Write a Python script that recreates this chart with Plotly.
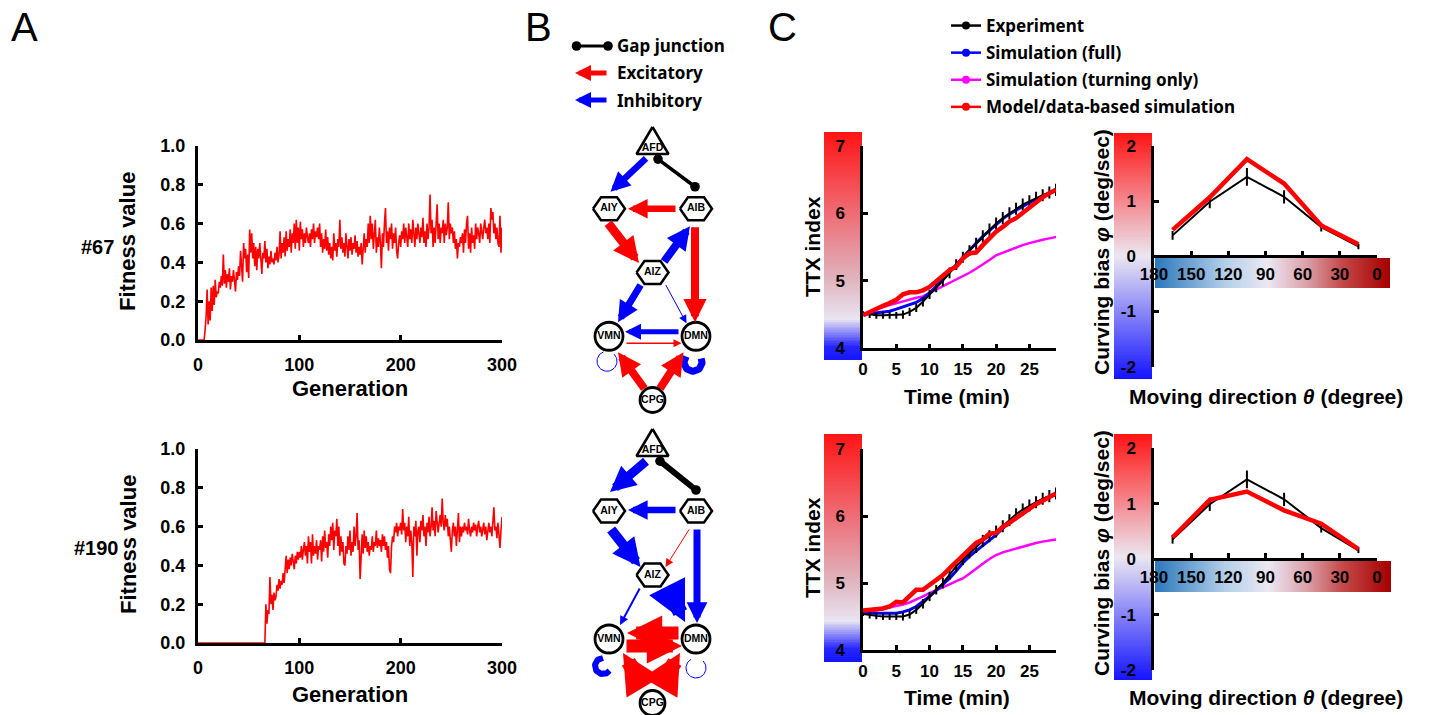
import numpy as np
import plotly.graph_objects as go

W, H = 1429, 715

# ---------------------------------------------------------------- data
generation = list(range(301))
fitness_67 = [
    0, 0, 0, 0, 0, 0, 0, 0.05, 0.12, 0.26,
    0.08, 0.2, 0.1, 0.27, 0.15, 0.28, 0.18, 0.31, 0.22, 0.25,
    0.24, 0.3, 0.27, 0.33, 0.28, 0.44, 0.29, 0.36, 0.27, 0.34,
    0.3, 0.37, 0.26, 0.33, 0.3, 0.36, 0.28, 0.25, 0.35, 0.31,
    0.38, 0.33, 0.46, 0.36, 0.3, 0.5, 0.42, 0.47, 0.35, 0.44,
    0.32, 0.57, 0.45, 0.55, 0.42, 0.5, 0.38, 0.48, 0.36, 0.47,
    0.42, 0.5, 0.38, 0.34, 0.45, 0.42, 0.51, 0.4, 0.47, 0.37,
    0.43, 0.39, 0.46, 0.4, 0.42, 0.39, 0.45, 0.41, 0.48, 0.4,
    0.44, 0.56, 0.42, 0.5, 0.45, 0.53, 0.43, 0.56, 0.46, 0.52,
    0.48, 0.57, 0.45, 0.55, 0.5, 0.6, 0.47, 0.62, 0.5, 0.58,
    0.46, 0.61, 0.52, 0.57, 0.48, 0.55, 0.5, 0.58, 0.53, 0.5,
    0.55, 0.48, 0.57, 0.52, 0.6, 0.5, 0.56, 0.53, 0.58, 0.52,
    0.6, 0.48, 0.55, 0.45, 0.52, 0.47, 0.57, 0.46, 0.53, 0.44,
    0.5, 0.42, 0.48, 0.41, 0.55, 0.46, 0.5, 0.43, 0.52, 0.48,
    0.62, 0.47, 0.53, 0.45, 0.5, 0.43, 0.55, 0.48, 0.42, 0.52,
    0.46, 0.53, 0.44, 0.5, 0.47, 0.54, 0.45, 0.51, 0.43, 0.48,
    0.44, 0.5, 0.39, 0.47, 0.55, 0.45, 0.52, 0.48, 0.6, 0.5,
    0.64, 0.52, 0.6, 0.47, 0.55, 0.62, 0.45, 0.53, 0.48, 0.58,
    0.5, 0.37, 0.55, 0.48, 0.6, 0.68, 0.5, 0.56, 0.46, 0.58,
    0.52, 0.6, 0.47, 0.55, 0.5, 0.58, 0.46, 0.42, 0.5, 0.54,
    0.48, 0.56, 0.52, 0.6, 0.5, 0.58, 0.53, 0.48, 0.6, 0.52,
    0.57, 0.5, 0.62, 0.54, 0.48, 0.58, 0.52, 0.6, 0.55, 0.5,
    0.58, 0.53, 0.63, 0.5, 0.56, 0.48, 0.6, 0.52, 0.58, 0.75,
    0.55, 0.62, 0.48, 0.58, 0.5, 0.65, 0.7, 0.52, 0.6, 0.5,
    0.58, 0.55, 0.62, 0.5, 0.6, 0.54, 0.58, 0.71, 0.52, 0.6,
    0.55, 0.58, 0.5, 0.56, 0.47, 0.52, 0.42, 0.5, 0.48, 0.53,
    0.5, 0.55, 0.45, 0.57, 0.5, 0.6, 0.64, 0.47, 0.55, 0.45,
    0.58, 0.5, 0.54, 0.47, 0.6, 0.52, 0.58, 0.55, 0.5, 0.6,
    0.56, 0.52, 0.58, 0.62, 0.55, 0.58, 0.52, 0.6, 0.5, 0.68,
    0.62, 0.66, 0.55, 0.6, 0.52, 0.58, 0.5, 0.48, 0.64, 0.45,
    0.58,
]
fitness_190 = [
    0, 0, 0, 0, 0, 0, 0, 0, 0, 0,
    0, 0, 0, 0, 0, 0, 0, 0, 0, 0,
    0, 0, 0, 0, 0, 0, 0, 0, 0, 0,
    0, 0, 0, 0, 0, 0, 0, 0, 0, 0,
    0, 0, 0, 0, 0, 0, 0, 0, 0, 0,
    0, 0, 0, 0, 0, 0, 0, 0, 0, 0,
    0, 0, 0, 0, 0, 0, 0, 0.2, 0.1, 0.17,
    0.15, 0.34, 0.2, 0.25, 0.17, 0.26, 0.22, 0.24, 0.3, 0.27,
    0.33, 0.28, 0.32, 0.3, 0.36, 0.31, 0.38, 0.45, 0.36, 0.43,
    0.38, 0.44, 0.4, 0.46, 0.42, 0.38, 0.45, 0.41, 0.47, 0.43,
    0.47, 0.44, 0.5, 0.43, 0.48, 0.52, 0.45, 0.5, 0.41, 0.55,
    0.47, 0.52, 0.41, 0.56, 0.45, 0.5, 0.46, 0.53, 0.43, 0.5,
    0.48, 0.53, 0.42, 0.55, 0.47, 0.58, 0.49, 0.52, 0.44, 0.56,
    0.5, 0.6, 0.53, 0.62, 0.48, 0.58, 0.55, 0.64, 0.5, 0.6,
    0.45, 0.55, 0.47, 0.52, 0.41, 0.4, 0.5, 0.46, 0.55, 0.48,
    0.58, 0.45, 0.52, 0.47, 0.6, 0.5, 0.55, 0.67, 0.48, 0.53,
    0.33, 0.5, 0.56, 0.46, 0.58, 0.49, 0.55, 0.47, 0.52, 0.45,
    0.5, 0.48, 0.55, 0.47, 0.52, 0.5, 0.58, 0.49, 0.54, 0.5,
    0.53, 0.47, 0.56, 0.5, 0.55, 0.48, 0.52, 0.44, 0.5, 0.38,
    0.36, 0.5, 0.55, 0.52, 0.6, 0.57, 0.62, 0.55, 0.6, 0.58,
    0.62, 0.56, 0.69, 0.58, 0.62, 0.52, 0.6, 0.55, 0.65, 0.5,
    0.58, 0.52, 0.34, 0.6, 0.55, 0.63, 0.45, 0.58, 0.6, 0.52,
    0.63, 0.58, 0.66, 0.55, 0.6, 0.5, 0.62, 0.57, 0.65, 0.55,
    0.6, 0.7, 0.58, 0.63, 0.55, 0.68, 0.6, 0.57, 0.62, 0.66,
    0.6, 0.745, 0.62, 0.58, 0.66, 0.6, 0.64, 0.55, 0.6, 0.52,
    0.47, 0.58, 0.62, 0.55, 0.6, 0.5, 0.58, 0.67, 0.52, 0.6,
    0.55, 0.6, 0.57, 0.62, 0.58, 0.6, 0.56, 0.64, 0.58, 0.55,
    0.6, 0.57, 0.62, 0.58, 0.61, 0.55, 0.6, 0.63, 0.57, 0.6,
    0.55, 0.58, 0.62, 0.56, 0.6, 0.53, 0.58, 0.62, 0.57, 0.6,
    0.55, 0.63, 0.7, 0.58, 0.6, 0.54, 0.62, 0.56, 0.49, 0.58,
    0.65,
]

time_min = list(range(30))
ttx67_experiment = [4.52, 4.50, 4.49, 4.49, 4.49, 4.49, 4.50, 4.54, 4.60, 4.69,
                    4.80, 4.90, 5.00, 5.12, 5.24, 5.35, 5.45, 5.55, 5.66, 5.76,
                    5.85, 5.93, 6.00, 6.07, 6.13, 6.18, 6.23, 6.27, 6.31, 6.35]
ttx67_error = [0.03, 0.05, 0.05, 0.05, 0.05, 0.05, 0.06, 0.06, 0.06, 0.07,
               0.07, 0.07, 0.08, 0.08, 0.08, 0.08, 0.08, 0.09, 0.09, 0.09,
               0.09, 0.09, 0.09, 0.09, 0.09, 0.09, 0.09, 0.09, 0.09, 0.09]
ttx67_full = [4.50, 4.51, 4.52, 4.53, 4.55, 4.58, 4.61, 4.64, 4.68, 4.74,
              4.82, 4.92, 5.02, 5.13, 5.24, 5.35, 5.46, 5.56, 5.66, 5.75,
              5.84, 5.92, 5.99, 6.05, 6.11, 6.16, 6.21, 6.26, 6.30, 6.34]
ttx67_turning = [4.50, 4.54, 4.58, 4.61, 4.64, 4.67, 4.70, 4.73, 4.75, 4.77,
                 4.82, 4.86, 4.91, 4.96, 5.01, 5.06, 5.12, 5.18, 5.24, 5.31,
                 5.38, 5.42, 5.46, 5.50, 5.53, 5.56, 5.59, 5.61, 5.63, 5.65]
ttx67_model = [4.49, 4.54, 4.59, 4.63, 4.67, 4.72, 4.80, 4.83, 4.83, 4.86,
               4.91, 4.99, 5.06, 5.16, 5.21, 5.33, 5.41, 5.42, 5.53, 5.63,
               5.73, 5.80, 5.88, 5.93, 6.01, 6.08, 6.17, 6.24, 6.30, 6.35]

ttx190_experiment = [4.54, 4.52, 4.51, 4.50, 4.50, 4.50, 4.50, 4.53, 4.60, 4.69,
                     4.80, 4.90, 5.00, 5.13, 5.25, 5.35, 5.45, 5.54, 5.63, 5.70,
                     5.77, 5.85, 5.94, 6.03, 6.10, 6.16, 6.21, 6.26, 6.30, 6.34]
ttx190_error = [0.03, 0.05, 0.05, 0.05, 0.05, 0.05, 0.06, 0.06, 0.06, 0.07,
                0.07, 0.07, 0.08, 0.08, 0.08, 0.08, 0.08, 0.09, 0.09, 0.09,
                0.09, 0.09, 0.09, 0.09, 0.09, 0.09, 0.09, 0.09, 0.09, 0.09]
ttx190_full = [4.55, 4.55, 4.55, 4.55, 4.55, 4.55, 4.57, 4.60, 4.65, 4.72,
               4.80, 4.89, 4.98, 5.07, 5.18, 5.30, 5.40, 5.48, 5.55, 5.64,
               5.72, 5.82, 5.90, 5.98, 6.06, 6.13, 6.19, 6.25, 6.29, 6.33]
ttx190_turning = [4.55, 4.57, 4.59, 4.61, 4.63, 4.65, 4.68, 4.71, 4.75, 4.80,
                  4.85, 4.89, 4.94, 4.98, 5.03, 5.07, 5.14, 5.22, 5.29, 5.36,
                  5.42, 5.46, 5.49, 5.52, 5.55, 5.58, 5.60, 5.62, 5.64, 5.65]
ttx190_model = [4.59, 4.60, 4.60, 4.62, 4.65, 4.72, 4.71, 4.80, 4.90, 4.90,
                4.97, 5.05, 5.12, 5.22, 5.32, 5.40, 5.50, 5.60, 5.65, 5.74,
                5.75, 5.84, 5.90, 5.97, 6.05, 6.12, 6.18, 6.23, 6.28, 6.34]

theta_deg = [165, 135, 105, 75, 45, 15]
bias67_experiment = [0.38, 0.99, 1.44, 1.08, 0.53, 0.18]
bias67_error = [0.08, 0.12, 0.16, 0.12, 0.08, 0.05]
bias67_model = [0.48, 1.07, 1.76, 1.32, 0.56, 0.22]
bias190_experiment = [0.36, 0.99, 1.44, 1.08, 0.56, 0.16]
bias190_error = [0.08, 0.12, 0.16, 0.12, 0.08, 0.05]
bias190_model = [0.39, 1.07, 1.22, 0.88, 0.64, 0.18]

gen_ticks = [0, 100, 200, 300]
fit_ticks = [0.0, 0.2, 0.4, 0.6, 0.8, 1.0]
time_ticks = [0, 5, 10, 15, 20, 25]
ttx_ticks = [4, 5, 6, 7]
dir_ticks = [180, 150, 120, 90, 60, 30, 0]
bias_ticks = [-2, -1, 0, 1, 2]
bias_ticktext = ['-2', '-1', '0', '1', '2']

legend_names = ['Experiment', 'Simulation (full)',
                'Simulation (turning only)', 'Model/data-based simulation']

# network: node grid (column, row) and edges (source, target, type, strength)
node_grid = {'AFD': (1, 0), 'AIY': (0, 1), 'AIB': (2, 1), 'AIZ': (1, 2),
             'VMN': (0, 3), 'DMN': (2, 3), 'CPG': (1, 4)}
net67_edges = [
    ('AFD', 'AIY', 'inh', 6.5), ('AFD', 'AIB', 'gap', 3.5), ('AIB', 'AIY', 'exc', 6.5),
    ('AIY', 'AIZ', 'exc', 9), ('AIZ', 'AIB', 'inh', 8), ('AIB', 'DMN', 'exc', 8),
    ('AIZ', 'VMN', 'inh', 7), ('AIZ', 'DMN', 'inh', 1), ('DMN', 'VMN', 'inh', 5),
    ('VMN', 'DMN', 'exc', 1.5), ('CPG', 'VMN', 'exc', 8), ('CPG', 'DMN', 'exc', 8),
    ('VMN', 'VMN', 'inh', 1), ('DMN', 'DMN', 'inh', 7),
]
net190_edges = [
    ('AFD', 'AIY', 'inh', 9), ('AFD', 'AIB', 'gap', 6), ('AIB', 'AIY', 'inh', 6.5),
    ('AIY', 'AIZ', 'inh', 10), ('AIB', 'AIZ', 'exc', 1), ('AIB', 'DMN', 'inh', 7),
    ('AIZ', 'VMN', 'inh', 2), ('AIZ', 'DMN', 'inh', 15), ('DMN', 'VMN', 'exc', 13),
    ('VMN', 'DMN', 'exc', 13), ('CPG', 'VMN', 'exc', 15), ('CPG', 'DMN', 'exc', 15),
    ('VMN', 'VMN', 'inh', 6), ('DMN', 'DMN', 'inh', 1),
]

# ---------------------------------------------------------------- style
AX = 'Liberation Sans'
NOTO = 'Noto Sans'
RED, BLUE, MAG, BLK = '#ff0000', '#0000ff', '#ff00ff', '#000000'
EDGE_COLOR = {'exc': RED, 'inh': BLUE, 'gap': BLK}
HIDDEN = dict(visible=False, fixedrange=True)

# drawing ports of each edge: pixel offsets from (source, target) node centres
ports67 = {
    ('AFD', 'AIY'): ((-5, 12), (1.5, -17)), ('AFD', 'AIB'): ((4, 13), (-1, -22)),
    ('AIB', 'AIY'): ((-19, 0), (19, 0)), ('AIY', 'AIZ'): ((-2, 13), (-13.5, -9.5)),
    ('AIZ', 'AIB'): ((10.5, -9.5), (-6, 17.5)), ('AIB', 'DMN'): ((-1, 17), (-1, -14)),
    ('AIZ', 'VMN'): ((-11, 11), (9, -14)), ('AIZ', 'DMN'): ((12.5, 11), (-9.5, -13)),
    ('DMN', 'VMN'): ((-16, -4.5), (16, -4.5)), ('VMN', 'DMN'): ((16, 7), (-14.5, 7)),
    ('CPG', 'VMN'): ((-7, -10), (9, 16)), ('CPG', 'DMN'): ((6.5, -10), (-12.5, 16)),
}
loops67 = {'VMN': ((-2, 25), 10, 250, -60), 'DMN': ((-3, 26), 9, 220, -40)}
ports190 = {
    ('AFD', 'AIY'): ((-5, 13), (1, -19)), ('AFD', 'AIB'): ((6, 13), (0, -21)),
    ('AIB', 'AIY'): ((-19, -1), (19, -1)), ('AIY', 'AIZ'): ((1, 17), (-12, -8)),
    ('AIB', 'AIZ'): ((-6, 17), (13, -8)), ('AIB', 'DMN'): ((1, 17), (1, -16)),
    ('AIZ', 'VMN'): ((-12, 12), (11, -14)), ('AIZ', 'DMN'): ((15, 12), (-11, -17)),
    ('DMN', 'VMN'): ((-16, -6), (18, -6)), ('VMN', 'DMN'): ((16, 7), (-14, 7)),
    ('CPG', 'VMN'): ((-9, -16), (14, 14)), ('CPG', 'DMN'): ((8, -16), (-16, 14)),
}
loops190 = {'VMN': ((-6, 27), 8, 270, 20), 'DMN': ((0, 29), 10, 240, -60)}

TRI = [(0, -18), (16, 9), (-16, 9), (0, -18)]
HEX = [(-16, 0), (-8, -11.5), (8, -11.5), (16, 0), (8, 11.5), (-8, 11.5), (-16, 0)]
CIRC_SIZE = {'VMN': 28, 'DMN': 28, 'CPG': 25}
COL0, CX = 609, 43.5

TTX_CS = [[0, '#1414ff'], [0.06, '#2626ff'], [0.18, '#e9e5f1'], [0.36, '#dfb3bd'],
          [0.65, '#ef6b73'], [1, '#ff1414']]
BIAS_CS = [[0, '#1414ff'], [0.5, '#ebe7f1'], [1, '#ff1414']]
DIR_CS = [[0, '#a60000'], [0.2, '#c44848'], [0.36, '#dba4ad'], [0.52, '#ebe8f2'],
          [0.7, '#b4cfe9'], [1, '#2a78bc']]


def xd(a, b):
    return [a / W, b / W]


def yd(top, bot):
    return [1 - bot / H, 1 - top / H]


def nm(c, n):
    return c if n == 1 else f'{c}{n}'


fig = go.Figure()
axes = {}
annots = []


def head_size(w):
    hw = max(8.0, 2.4 * w + 4.0)
    return max(0.3, hw / (5.0 * w))


def arrow(hx, hy, tx, ty, xr, yr, color, w, head=2):
    return dict(x=hx, y=hy, ax=tx, ay=ty, xref=xr, yref=yr, axref=xr, ayref=yr,
                text='', showarrow=True, arrowhead=head, arrowsize=head_size(w),
                arrowwidth=w, arrowcolor=color, standoff=0, startstandoff=0)


def gap(hx, hy, tx, ty, xr, yr, w, axref=None, ayref=None):
    s = max(0.3, 4.8 / (2.0 * w))
    return dict(x=hx, y=hy, ax=tx, ay=ty, xref=xr, yref=yr,
                axref=axref or xr, ayref=ayref or yr, text='', showarrow=True,
                arrowhead=6, startarrowhead=6, arrowside='end+start',
                arrowsize=s, startarrowsize=s, arrowwidth=w, arrowcolor=BLK)


# ---------------------------------------------------------------- colour bars
def vbar(n, xpx, ypx, lo, hi, cs):
    lv = np.linspace(lo, hi, 140)
    fig.add_trace(go.Heatmap(z=[[v] for v in lv], x=[0], y=lv, colorscale=cs,
                             zmin=lo, zmax=hi, showscale=False, hoverinfo='skip',
                             xaxis=nm('x', n), yaxis=nm('y', n)))
    axes[nm('xaxis', n)] = dict(domain=xd(*xpx), range=[-0.5, 0.5], anchor=nm('y', n), **HIDDEN)
    axes[nm('yaxis', n)] = dict(domain=yd(*ypx), range=[lo, hi], anchor=nm('x', n), **HIDDEN)


def hbar(n, xpx, ypx, lo, hi, cs):
    lv = np.linspace(lo, hi, 160)
    fig.add_trace(go.Heatmap(z=[list(lv)], x=lv, y=[0], colorscale=cs,
                             zmin=lo, zmax=hi, showscale=False, hoverinfo='skip',
                             xaxis=nm('x', n), yaxis=nm('y', n)))
    axes[nm('xaxis', n)] = dict(domain=xd(*xpx), range=[hi, lo], anchor=nm('y', n), **HIDDEN)
    axes[nm('yaxis', n)] = dict(domain=yd(*ypx), range=[-0.5, 0.5], anchor=nm('x', n), **HIDDEN)


vbar(1, (824, 862), (132, 360), 3.83, 7.21, TTX_CS)
vbar(2, (1114, 1152), (133, 379), -2.22, 2.24, BIAS_CS)
hbar(3, (1155, 1390), (258, 288), -10.7, 180, DIR_CS)
vbar(4, (824, 862), (434, 662), 3.83, 7.21, TTX_CS)
vbar(5, (1114, 1152), (434, 680), -2.22, 2.24, BIAS_CS)
hbar(6, (1155, 1391), (561, 592), -10.7, 180, DIR_CS)


# ---------------------------------------------------------------- axes helper
def axis(dom, rng, ticks, standoff, size=17, lw=2.5, **kw):
    d = dict(domain=dom, range=rng, showline=True, linecolor='black', linewidth=lw,
             ticks='inside', ticklen=5, tickwidth=2.5, tickcolor='black',
             tickmode='array', tickvals=ticks, showgrid=False, zeroline=False,
             ticklabelstandoff=standoff, fixedrange=True, automargin=False,
             tickfont=dict(family=AX, size=size, color='black', weight='bold'))
    d.update(kw)
    return d


# ---------------------------------------------------------------- panel C: TTX
def ttx_panel(n, ypx, exp, err, full, turn, model):
    xa, ya = f'x{n}', f'y{n}'
    fig.add_trace(go.Scatter(x=time_min, y=turn, mode='lines', line=dict(color=MAG, width=2.5),
                             showlegend=False, xaxis=xa, yaxis=ya))
    fig.add_trace(go.Scatter(x=time_min, y=full, mode='lines', line=dict(color=BLUE, width=3),
                             showlegend=False, xaxis=xa, yaxis=ya))
    fig.add_trace(go.Scatter(x=time_min, y=exp, mode='lines', line=dict(color=BLK, width=2),
                             error_y=dict(type='data', array=err, color=BLK, thickness=2, width=0),
                             showlegend=False, xaxis=xa, yaxis=ya))
    fig.add_trace(go.Scatter(x=time_min, y=model, mode='lines', line=dict(color=RED, width=4.5),
                             showlegend=False, xaxis=xa, yaxis=ya))
    axes[f'xaxis{n}'] = axis(xd(863, 1056), [0, 29], time_ticks, 4, anchor=ya)
    axes[f'yaxis{n}'] = axis(yd(*ypx), [4, 7], ttx_ticks, 12, anchor=xa)


def bias_panel(n, ypx, zero_px, exp, err, model):
    xa, ya = f'x{n}', f'y{n}'
    fig.add_trace(go.Scatter(x=theta_deg, y=exp, mode='lines', line=dict(color=BLK, width=2),
                             error_y=dict(type='data', array=err, color=BLK, thickness=2, width=0),
                             showlegend=False, xaxis=xa, yaxis=ya))
    fig.add_trace(go.Scatter(x=theta_deg, y=model, mode='lines', line=dict(color=RED, width=4.5),
                             showlegend=False, xaxis=xa, yaxis=ya))
    axes[f'xaxis{n}'] = axis(xd(1154, 1377), [180, 0], dir_ticks, 2,
                             anchor='free', position=1 - zero_px / H)
    axes[f'yaxis{n}'] = axis(yd(*ypx), [-2, 2], bias_ticks, 12, anchor=xa,
                             ticktext=bias_ticktext)


ttx_panel(7, (146, 348.3), ttx67_experiment, ttx67_error, ttx67_full, ttx67_turning, ttx67_model)
bias_panel(8, (146, 366.7), 256.3, bias67_experiment, bias67_error, bias67_model)
ttx_panel(9, (449.3, 650), ttx190_experiment, ttx190_error, ttx190_full, ttx190_turning, ttx190_model)
bias_panel(10, (448.3, 670), 559.2, bias190_experiment, bias190_error, bias190_model)

# legend entries (shared by the panel C plots)
for name, col in zip(legend_names, [BLK, BLUE, MAG, RED]):
    fig.add_trace(go.Scatter(x=[None], y=[None], mode='lines+markers', name=name,
                             line=dict(color=col, width=2.5), marker=dict(color=col, size=8),
                             legendgroup=name, showlegend=True, xaxis='x7', yaxis='y7'))


# ---------------------------------------------------------------- panel A
def fitness_panel(n, ypx, values):
    xa, ya = f'x{n}', f'y{n}'
    fig.add_trace(go.Scatter(x=generation, y=values, mode='lines', line=dict(color=RED, width=1.6),
                             showlegend=False, xaxis=xa, yaxis=ya))
    axes[f'xaxis{n}'] = axis(xd(198, 502), [0, 300], gen_ticks, 6, size=18, lw=3, anchor=ya)
    axes[f'yaxis{n}'] = axis(yd(*ypx), [0, 1], fit_ticks, 6, size=18, lw=3,
                             tickformat='.1f', anchor=xa)


fitness_panel(11, (146, 340), fitness_67)
fitness_panel(12, (449, 643), fitness_190)


# ---------------------------------------------------------------- panel B
def add_network(n, edges, ports, loops, row0_px, ry, top_px, bot_px):
    xa, ya = f'x{n}', f'y{n}'
    axes[f'xaxis{n}'] = dict(domain=xd(560, 740), range=[(560 - COL0) / CX, (740 - COL0) / CX],
                             anchor=ya, **HIDDEN)
    axes[f'yaxis{n}'] = dict(domain=yd(top_px, bot_px),
                             range=[(bot_px - row0_px) / ry, (top_px - row0_px) / ry],
                             anchor=xa, **HIDDEN)

    def at(node, off=(0, 0)):
        c, r = node_grid[node]
        return c + off[0] / CX, r + off[1] / ry

    for src, dst, kind, w in edges:
        col = EDGE_COLOR[kind]
        if src == dst:
            off, rad, a0, a1 = loops[src]
            cx, cy = at(src, off)
            ang = np.radians(np.linspace(a0, a1 + 15 * np.sign(a0 - a1), 40))
            lx = cx + rad * np.cos(ang) / CX
            ly = cy + rad * np.sin(ang) / ry
            fig.add_trace(go.Scatter(x=lx, y=ly, mode='lines', line=dict(color=col, width=w),
                                     hoverinfo='skip', showlegend=False, xaxis=xa, yaxis=ya))
            e = np.radians(a1)
            annots.append(arrow(cx + rad * np.cos(e) / CX, cy + rad * np.sin(e) / ry,
                                lx[-1], ly[-1], xa, ya, col, w))
            continue
        toff, hoff = ports[(src, dst)]
        tx, ty = at(src, toff)
        hx, hy = at(dst, hoff)
        if kind == 'gap':
            annots.append(gap(hx, hy, tx, ty, xa, ya, w))
        else:
            annots.append(arrow(hx, hy, tx, ty, xa, ya, col, w))

    # nodes
    px, py = [], []
    for node, (c, r) in node_grid.items():
        tpl = TRI if node == 'AFD' else HEX if node in ('AIY', 'AIB', 'AIZ') else None
        if tpl is None:
            continue
        for ox, oy in tpl:
            px.append(c + ox / CX)
            py.append(r + oy / ry)
        px.append(None)
        py.append(None)
    fig.add_trace(go.Scatter(x=px, y=py, mode='lines', fill='toself', fillcolor='white',
                             line=dict(color='black', width=2.5), hoverinfo='skip',
                             showlegend=False, xaxis=xa, yaxis=ya))
    circ = list(CIRC_SIZE)
    fig.add_trace(go.Scatter(x=[node_grid[k][0] for k in circ], y=[node_grid[k][1] for k in circ],
                             mode='markers', cliponaxis=False,
                             marker=dict(size=[CIRC_SIZE[k] for k in circ], color='white',
                                         opacity=1, line=dict(color='#000000', width=2.8)),
                             hoverinfo='skip', showlegend=False, xaxis=xa, yaxis=ya))
    names = list(node_grid)
    fig.add_trace(go.Scatter(x=[node_grid[k][0] for k in names],
                             y=[node_grid[k][1] + (3 / ry if k == 'AFD' else 0) for k in names],
                             mode='text', text=names, cliponaxis=False,
                             textfont=dict(family=AX, size=10.5, color='black', weight='bold'),
                             hoverinfo='skip', showlegend=False, xaxis=xa, yaxis=ya))


add_network(13, net67_edges, ports67, loops67, 145, 63.75, 115, 418)
add_network(14, net190_edges, ports190, loops190, 447, 64, 416, 715)

# panel B legend
annots.append(gap(608 / W, 1 - 46 / H, -33, 0, 'paper', 'paper', 3, 'pixel', 'pixel'))
for ypx, col in ((73, RED), (100, BLUE)):
    a = arrow(575 / W, 1 - ypx / H, 33, 0, 'paper', 'paper', col, 5)
    a.update(axref='pixel', ayref='pixel')
    annots.append(a)


# ---------------------------------------------------------------- texts
def text(x, y, s, size, family=AX, bold=True, angle=0, xanchor='center'):
    annots.append(dict(x=x / W, y=1 - y / H, xref='paper', yref='paper', text=s,
                       showarrow=False, textangle=angle, xanchor=xanchor, yanchor='middle',
                       font=dict(family=family, size=size, color='black',
                                 weight='bold' if bold else 'normal')))


text(25, 27, 'A', 40, bold=False)
text(538, 27, 'B', 40, bold=False)
text(782, 27, 'C', 40, bold=False)
text(97, 247, '#67', 20)
text(96, 548, '#190', 20)
for yy in (241, 544):
    text(128, yy, 'Fitness value', 22, angle=-90)
for yy in (388, 694):
    text(350, yy, 'Generation', 22)
for yy in (247, 548):
    text(812, yy, 'TTX index', 21, angle=-90)
for yy in (396, 697):
    text(957, yy, 'Time (min)', 21)
for yy in (252, 553):
    text(1101, yy, 'Curving bias <i>φ</i> (deg/sec)', 21, angle=-90)
for yy in (396, 697):
    text(1266, yy, 'Moving direction <i>θ</i> (degree)', 21)
text(615, 46, 'Gap junction', 17, family=NOTO, xanchor='left')
text(615, 73, 'Excitatory', 17, family=NOTO, xanchor='left')
text(615, 100, 'Inhibitory', 17, family=NOTO, xanchor='left')

fig.update_layout(
    width=W, height=H, autosize=False,
    margin=dict(l=0, r=0, t=0, b=0, pad=0, autoexpand=False),
    paper_bgcolor='white', plot_bgcolor='rgba(0,0,0,0)', showlegend=True,
    legend=dict(x=946 / W, y=1 - 8 / H, xanchor='left', yanchor='top',
                bgcolor='rgba(0,0,0,0)', tracegroupgap=2,
                font=dict(family=NOTO, size=17, color='black', weight='bold')),
    annotations=annots, **axes,
)

fig.write_html('out.html')
